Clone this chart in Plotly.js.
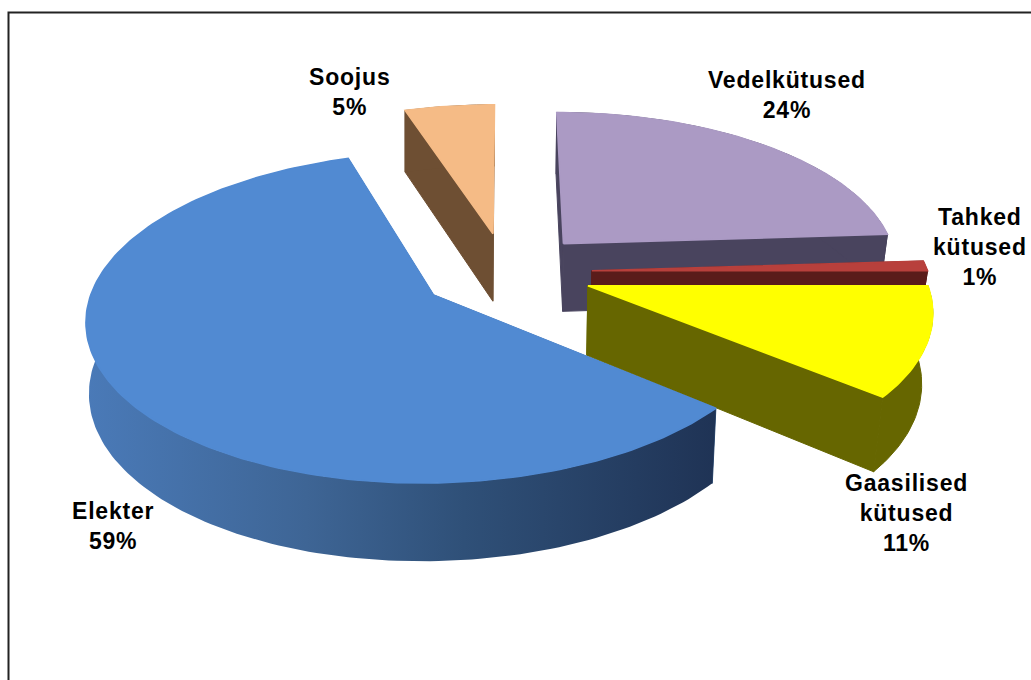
<!DOCTYPE html>
<html>
<head>
<meta charset="utf-8">
<script src="https://cdn.plot.ly/plotly-3.0.1.min.js"></script>
<style>
html,body{margin:0;padding:0;background:#fff}
#chart{width:1031px;height:680px}
.annotation-text{letter-spacing:0.8px}
</style>
</head>
<body>
<div id="chart"></div>
<script>
// Energy use by carrier, shares in percent, clockwise from twelve o'clock.
const categories = ['Vedelkütused', 'Tahked<br>kütused', 'Gaasilised<br>kütused', 'Elekter', 'Soojus'];
const shares = [24, 1, 11, 59, 5];
const topColors = ['#ab9ac4', '#b8403c', '#ffff00', '#518ad2', '#f5bb86'];
const wallColors = ['#49445e', '#5a1c1a', '#666600', '#2f5078', '#6e4f33'];
// Outer wall shading of the large slice, left to right.
const elekterWallStops = [[0, '#4a7ab8'], [0.35, '#3e6595'], [0.6, '#2f5078'], [1, '#1f3355']];
const labelX = [787, 980, 906, 113, 349];
const labelY = [95, 247, 513, 526, 92];

// Projection of the tilted, exploded pie onto the page.
const view = { cx: 506, cy: 272, radius: 336, yScale: 156, persp: 0.135, explode: 0.256, depth: 69, taperX: 430, taperLeft: 2.5e-5, taperRight: 4.4e-5 };

function project(px, pz) {
  const s = 1 / (1 - view.persp * pz);
  return [view.cx + view.radius * px * s, view.cy + view.yScale * pz * s, s];
}
// The bottom rim sits a little further away, so it narrows towards the taper point.
function lower(pt) {
  const dx = pt[0] - view.taperX;
  const taper = dx < 0 ? view.taperLeft : view.taperRight;
  return [pt[0] - taper * dx * Math.abs(dx), pt[1] + view.depth * Math.pow(pt[2], 0.75)];
}
function slicePoint(mid, phi, r) {
  const e = view.explode;
  return project(e * Math.sin(mid) + r * Math.sin(phi), -e * Math.cos(mid) - r * Math.cos(phi));
}
function polygon(points, color, extra) {
  return Object.assign({
    type: 'scatter', mode: 'lines', x: points.map(p => p[0]), y: points.map(p => p[1]),
    fill: 'toself', fillcolor: color, line: { width: 1, color: color },
    hoverinfo: 'skip', showlegend: false
  }, extra || {});
}

const total = shares.reduce((a, b) => a + b, 0);
const deg = 2 * Math.PI / total;
const sliceGeom = [];
let running = 0;
shares.forEach((v, i) => {
  const a0 = running * deg, a1 = (running + v) * deg;
  running += v;
  const mid = (a0 + a1) / 2, n = Math.max(4, Math.round(v * 3));
  const arc = [];
  for (let k = 0; k <= n; k++) arc.push(slicePoint(mid, a0 + (a1 - a0) * k / n, 1));
  sliceGeom.push({ i, apex: slicePoint(mid, 0, 0), arc });
});

// Painter's order: rear slices first, each with walls below its top face.
const paintOrder = [4, 0, 1, 2, 3];
const traces = [];
paintOrder.forEach(i => {
  const g = sliceGeom[i], wall = wallColors[i];
  const first = g.arc[0], last = g.arc[g.arc.length - 1];
  const face = e => [g.apex, e, lower(e), lower(g.apex), g.apex];
  traces.push(polygon(face(first), wall));
  traces.push(polygon(face(last), wall));
  const outer = g.arc.concat(g.arc.slice().reverse().map(lower));
  outer.push(outer[0]);
  const extra = categories[i] === 'Elekter'
    ? { fillgradient: { type: 'horizontal', colorscale: elekterWallStops }, line: { width: 0 } } : {};
  traces.push(polygon(outer, wall, extra));
  const top = [g.apex].concat(g.arc, [g.apex]);
  traces.push(polygon(top, topColors[i], { line: { width: 1.6, color: topColors[i] } }));
});

const annotations = categories.map((c, i) => ({
  x: labelX[i], y: labelY[i], xref: 'x', yref: 'y', xanchor: 'center', yanchor: 'middle',
  text: '<b>' + c + '<br>' + shares[i] + '%</b>', showarrow: false, align: 'center',
  font: { family: '"Liberation Sans", Arial, sans-serif', size: 23, color: '#000' }
}));

const layout = {
  width: 1031, height: 680, margin: { l: 0, r: 0, t: 0, b: 0 },
  paper_bgcolor: '#fff', plot_bgcolor: '#fff', showlegend: false,
  xaxis: { range: [0, 1031], visible: false, fixedrange: true },
  yaxis: { range: [680, 0], visible: false, fixedrange: true },
  annotations,
  shapes: [{ type: 'rect', xref: 'x', yref: 'y', x0: 8.5, y0: 12.5, x1: 1040, y1: 700, line: { color: '#222', width: 2 }, fillcolor: 'rgba(0,0,0,0)' }]
};
Plotly.newPlot('chart', traces, layout, { displayModeBar: false, staticPlot: true });
</script>
</body>
</html>
